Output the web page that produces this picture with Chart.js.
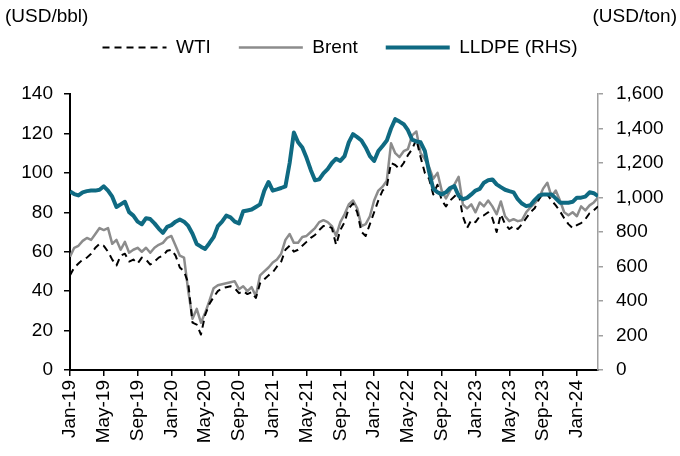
<!DOCTYPE html>
<html>
<head>
<meta charset="utf-8">
<script src="https://cdn.jsdelivr.net/npm/chart.js@4"></script>
<style>
  html, body { margin: 0; padding: 0; background: #fff; }
  #wrap { width: 680px; height: 456px; position: relative; }
</style>
</head>
<body>
<div id="wrap"><canvas id="chart"></canvas></div>
<script>
// half-monthly observations, Jan-19 .. Mar-24
const monthNames = ['Jan', 'Feb', 'Mar', 'Apr', 'May', 'Jun', 'Jul', 'Aug', 'Sep', 'Oct', 'Nov', 'Dec'];
const startYear = 19;
const obsPerMonth = 2;

const wti = [
  48, 52, 54, 56, 57, 59, 62, 64, 63, 60, 56, 53, 58, 59, 55, 56, 54, 57, 56, 53.5, 55, 57, 58, 60.5,
  61, 58, 52, 50, 44, 24, 23, 18, 28, 33.5, 37, 40, 41.5, 42, 42.5, 41.5, 39, 40, 38.5, 39.5, 36.5, 44, 46, 48,
  49.5, 52.5, 55, 61, 63, 60, 61, 63, 65, 67, 68.5, 71, 73, 73, 72, 63.5, 71, 75, 82, 84.5, 80, 70, 68, 74,
  80, 86, 91, 93, 105, 104, 102, 105, 109, 112, 117, 108, 100, 97, 89, 94, 86, 83, 86, 88, 90, 78, 72, 76,
  75, 78, 78.5, 80, 77, 70, 79, 74, 71.5, 73, 71.5, 74, 77, 80, 82, 86.5, 89.5, 89, 86, 83.5, 80.5, 77, 74, 72,
  73.5, 74.5, 76.5, 79.5, 81, 83
];

const brent = [
  57.5, 62, 63, 65.5, 67, 66, 69, 72, 71, 72, 64, 66, 61, 65, 59.5, 61, 62, 60, 62, 59.5, 62, 63.5, 64.5, 67,
  68, 63, 58, 57, 40, 26, 31, 24, 29, 35, 41.5, 43, 43.5, 44, 44.5, 45, 41, 42.5, 40, 42, 37.5, 48, 50, 52,
  54.5, 56, 59, 66, 69, 64.5, 64.5, 67.5, 68, 70, 72, 75, 76, 75, 73, 68, 75, 79, 84, 86, 82, 73, 74, 78,
  86, 91, 93, 96, 115, 110, 108, 111, 112, 119, 121, 110, 107, 103, 97, 100, 91, 87, 91, 94, 98, 84, 82, 84,
  80, 85, 83, 86, 83, 79, 85.5, 78, 75.5, 76.5, 75.5, 76, 80, 82.5, 84.5, 87, 92, 95, 88, 91, 86, 80, 78.5, 80,
  78, 83, 81, 83.5, 85, 87.5
];

const lldpe = [
  1035, 1020, 1012, 1030, 1037, 1040, 1040, 1045, 1065, 1040, 1005, 945, 960, 975, 915, 895, 860, 845, 880, 875, 850, 820, 795, 830,
  840, 860, 873, 860, 835, 790, 730, 715, 702, 735, 770, 834, 860, 895, 885, 860, 850, 920, 925, 930, 945, 960, 1040, 1090,
  1040, 1047, 1055, 1065, 1200, 1377, 1320, 1290, 1230, 1160, 1100, 1105, 1140, 1165, 1200, 1225, 1212, 1240, 1320, 1367, 1350, 1330, 1290, 1240,
  1212, 1270, 1299, 1330, 1400, 1454, 1440, 1425, 1390, 1335, 1325, 1320, 1270, 1150, 1050, 1030, 1018, 1030, 1055, 1066, 1010, 990, 998, 1018,
  1040, 1050, 1086, 1100, 1105, 1076, 1060, 1045, 1037, 1030, 990, 965, 950, 955, 985, 1010, 1018, 1018, 1018, 995, 970, 970, 970, 975,
  999, 999, 1005, 1030, 1025, 1008
];

const toPoints = arr => arr.map((v, i) => ({ x: i / obsPerMonth, y: v }));
const monthLabel = m => monthNames[m % 12] + '-' + (startYear + Math.floor(m / 12));

const FONT = '"Liberation Sans", Arial, sans-serif';
Chart.defaults.font.family = FONT;
Chart.defaults.font.size = 19;
Chart.defaults.color = '#000';

// unit captions above the two y axes
const unitLabels = {
  id: 'unitLabels',
  afterDraw(chart) {
    const ctx = chart.ctx;
    ctx.save();
    ctx.font = '19px ' + FONT;
    ctx.fillStyle = '#000';
    ctx.textBaseline = 'middle';
    ctx.textAlign = 'left';
    ctx.fillText('(USD/bbl)', 5, 17);
    ctx.textAlign = 'right';
    ctx.fillText('(USD/ton)', 677, 17);
    ctx.restore();
  }
};

// leave room between legend and plot area
const legendGap = {
  id: 'legendGap',
  afterInit(chart) {
    const lg = chart.legend;
    const fit = lg.fit;
    lg.fit = function () { fit.call(this); this.height = 84; };
  }
};

const lastX = (wti.length - 1) / obsPerMonth;

new Chart(document.getElementById('chart'), {
  type: 'line',
  data: {
    datasets: [
      { label: 'WTI', data: toPoints(wti), borderColor: '#000', borderWidth: 2, borderDash: [7, 5], yAxisID: 'y', order: 1 },
      { label: 'Brent', data: toPoints(brent), borderColor: '#8c8c8c', borderWidth: 2.5, yAxisID: 'y', order: 2 },
      { label: 'LLDPE (RHS)', data: toPoints(lldpe), borderColor: '#0f6a82', borderWidth: 4, yAxisID: 'y2', order: 0 }
    ]
  },
  options: {
    responsive: true,
    maintainAspectRatio: false,
    animation: false,
    devicePixelRatio: 1,
    layout: { padding: { top: 10, left: 0, right: 0, bottom: 0 } },
    elements: { point: { radius: 0 }, line: { tension: 0, borderJoinStyle: 'round' } },
    plugins: {
      tooltip: { enabled: false },
      legend: {
        position: 'top',
        labels: {
          usePointStyle: true,
          pointStyle: 'line',
          pointStyleWidth: 64,
          padding: 28,
          font: { size: 19 },
          sort: (a, b) => a.datasetIndex - b.datasetIndex,
          generateLabels: chart => {
            const items = Chart.defaults.plugins.legend.labels.generateLabels(chart);
            return items.map(item => {
              const ds = chart.data.datasets[item.datasetIndex];
              item.lineDash = ds.borderDash || [];
              item.lineWidth = ds.borderWidth;
              item.strokeStyle = ds.borderColor;
              item.pointStyle = 'line';
              return item;
            });
          }
        }
      }
    },
    scales: {
      x: {
        type: 'linear',
        min: 0,
        max: lastX,
        border: { color: '#000', width: 2 },
        grid: { drawOnChartArea: false, tickLength: 6, color: '#000', lineWidth: 1.5 },
        ticks: {
          stepSize: 4,
          includeBounds: false,
          autoSkip: false,
          minRotation: 90,
          maxRotation: 90,
          padding: 4,
          callback: v => monthLabel(v)
        },
        afterFit: s => { s.height = 86; }
      },
      y: {
        position: 'left',
        min: 0,
        max: 140,
        border: { color: '#000', width: 2 },
        grid: { drawOnChartArea: false, tickLength: 6, color: '#000', lineWidth: 1.5 },
        ticks: { stepSize: 20, padding: 11 },
        afterFit: s => { s.width = 70; }
      },
      y2: {
        position: 'right',
        min: 0,
        max: 1600,
        border: { color: '#a0a0a0', width: 1.5 },
        grid: { drawOnChartArea: false, tickLength: 5, color: '#a0a0a0', lineWidth: 1.5 },
        ticks: { stepSize: 200, padding: 13, callback: v => v.toLocaleString('en-US') },
        afterFit: s => { s.width = 82; }
      }
    }
  },
  plugins: [unitLabels, legendGap]
});
</script>
</body>
</html>
